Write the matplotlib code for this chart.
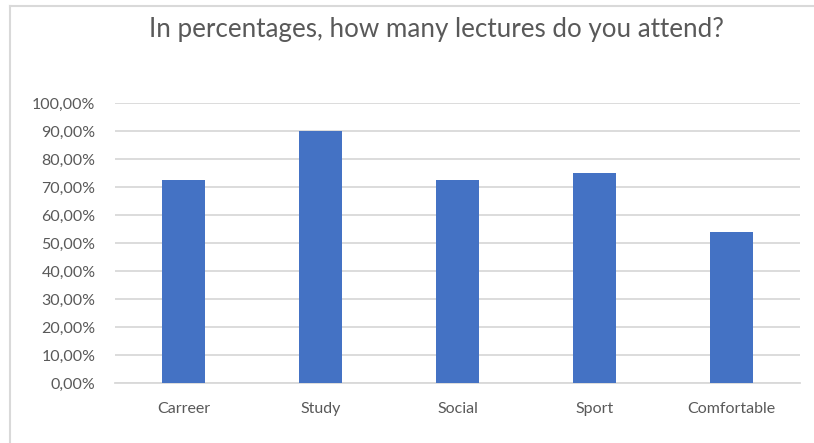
import matplotlib
matplotlib.use("Agg")
import matplotlib.pyplot as plt
import numpy as np
from matplotlib.ticker import FuncFormatter

categories = ["Carreer", "Study", "Social", "Sport", "Comfortable"]
attendance = [0.725, 0.90, 0.725, 0.75, 0.539]

plt.rcParams['font.family'] = ['Lato', 'DejaVu Sans']

W, H = 814, 443
fig = plt.figure(figsize=(W / 100, H / 100), dpi=100)
ax = fig.add_axes([115 / W, 1 - 383 / H, (800 - 115) / W, (383 - 103) / H])

x_pos = np.arange(len(categories))
ax.bar(x_pos, attendance, 0.32, color="#4472c4", zorder=3)

ax.set_xlim(-0.5, len(categories) - 0.5)
ax.set_ylim(0, 1.0)
ax.set_yticks(np.arange(0, 1.01, 0.1))
ax.yaxis.set_major_formatter(FuncFormatter(lambda v, p: ("%.2f%%" % (v * 100)).replace(".", ",")))
ax.set_xticks(x_pos)
ax.set_xticklabels(categories)
ax.grid(axis="y", color="#d9d9d9", linewidth=1.3, zorder=0)
ax.tick_params(axis="both", length=0, labelsize=11.5, colors="#595959")
ax.tick_params(axis="y", pad=14)
ax.tick_params(axis="x", pad=14)
for s in ["top", "right", "left"]:
    ax.spines[s].set_visible(False)
ax.spines["bottom"].set_color("#d9d9d9")
ax.spines["bottom"].set_linewidth(1.3)

fig.text(436 / W, 1 - 30 / H, "In percentages, how many lectures do you attend?",
         ha="center", va="center", fontsize=18.7, color="#595959")

# chart border (only top and left visible in the crop)
fig.add_artist(plt.Line2D([10 / W, 1], [1 - 6 / H, 1 - 6 / H], color="#d9d9d9", linewidth=1.5))
fig.add_artist(plt.Line2D([10 / W, 10 / W], [0, 1 - 6 / H], color="#d9d9d9", linewidth=1.5))

fig.savefig("out.png", dpi=100)
